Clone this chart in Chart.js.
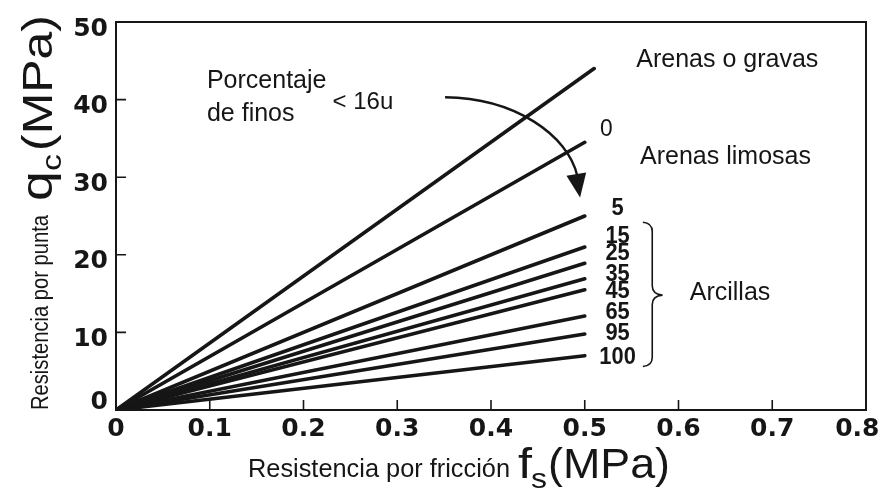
<!DOCTYPE html>
<html>
<head>
<meta charset="utf-8">
<script src="https://cdn.jsdelivr.net/npm/chart.js@4.4.1/dist/chart.umd.min.js"></script>
<style>
  html, body { margin: 0; padding: 0; background: #ffffff; }
  #wrap { width: 887px; height: 491px; }
</style>
</head>
<body>
<div id="wrap"><canvas id="c" width="887" height="491"></canvas></div>
<script>
// Resistencia por punta (qc) frente a resistencia por fricción (fs)
// Each line runs from the origin to its end point (fs, qc), in MPa.
const lineNames = ['Arenas o gravas', '0', '5', '15', '25', '35', '45', '65', '95', '100'];
const lineEndFs = [0.51, 0.50, 0.50, 0.50, 0.50, 0.50, 0.50, 0.50, 0.50, 0.50];
const lineEndQc = [44.0, 34.5, 25.0, 21.0, 18.9, 16.9, 15.5, 12.1, 9.8, 7.0];

// Fines percentages written next to the line ends
const finesLabels = ['0', '5', '15', '25', '35', '45', '65', '95', '100'];
// Soil groups
const soilLabels = ['Arenas o gravas', 'Arenas limosas', 'Arcillas'];

// Axis ticks
const xTickValues = [0, 0.1, 0.2, 0.3, 0.4, 0.5, 0.6, 0.7, 0.8];
const yTickValues = [0, 10, 20, 30, 40, 50];

const INK = '#161616';
const SANS = '"Liberation Sans", Arial, sans-serif';
const TICK_FONT = { family: '"DejaVu Sans", sans-serif', size: 25, weight: 'bold' };

// Placement of the annotations, in data units (fs, qc)
const finesPos = [
  [0.523, 36.1], [0.535, 26.0], [0.535, 22.4], [0.535, 20.2], [0.535, 17.5],
  [0.535, 15.2], [0.535, 12.5], [0.535, 9.9], [0.535, 6.8]
];
const soilPos = [[0.555, 45.1], [0.559, 32.6], [0.612, 15.1]];

const datasets = lineNames.map((name, i) => ({
  label: name,
  data: [{ x: 0, y: 0 }, { x: lineEndFs[i], y: lineEndQc[i] }],
  showLine: true,
  borderColor: INK,
  borderWidth: 3.6,
  borderCapStyle: 'round',
  pointRadius: 0,
  pointHoverRadius: 0,
  fill: false
}));

// Text drawn at a given width (squeezed or stretched horizontally)
function fitText(ctx, text, x, y, font, targetW) {
  ctx.font = font;
  const w = ctx.measureText(text).width;
  const s = targetW ? targetW / w : 1;
  ctx.save();
  ctx.translate(x, y);
  ctx.scale(s, 1);
  ctx.fillText(text, 0, 0);
  ctx.restore();
}

const annotations = {
  id: 'annotations',
  afterDraw(chart) {
    const ctx = chart.ctx;
    const xs = chart.scales.x, ys = chart.scales.y;
    const a = chart.chartArea;
    const px = v => xs.getPixelForValue(v);
    const py = v => ys.getPixelForValue(v);

    ctx.save();
    ctx.strokeStyle = INK;
    ctx.fillStyle = INK;

    // frame
    ctx.lineWidth = 2;
    ctx.strokeRect(a.left, a.top, a.right - a.left, a.bottom - a.top);

    // inward tick marks
    ctx.lineWidth = 1.6;
    ctx.beginPath();
    xTickValues.slice(1, -1).forEach(v => {
      ctx.moveTo(px(v), a.bottom);
      ctx.lineTo(px(v), a.bottom - 10);
    });
    yTickValues.slice(1, -1).forEach(v => {
      ctx.moveTo(a.left, py(v));
      ctx.lineTo(a.left + 10, py(v));
    });
    ctx.stroke();

    // fines percentages
    ctx.textBaseline = 'middle';
    finesLabels.forEach((t, i) => {
      const [fx, fy] = finesPos[i];
      const font = i === 0 ? '24px ' + SANS : 'bold 23px ' + SANS;
      ctx.font = font;
      const w = ctx.measureText(t).width * 0.95;
      fitText(ctx, t, px(fx) - w / 2, py(fy), font, w);
    });

    // soil groups
    ctx.font = '25px ' + SANS;
    soilLabels.forEach((t, i) => {
      const [sx, sy] = soilPos[i];
      ctx.fillText(t, px(sx), py(sy));
    });

    // "Porcentaje de finos < 16u"
    ctx.font = '25px ' + SANS;
    ctx.fillText('Porcentaje', px(0.097), py(42.4));
    ctx.fillText('de finos', px(0.097), py(38.1));
    ctx.font = '24px ' + SANS;
    ctx.fillText('< 16u', px(0.231), py(39.6));

    // curved arrow
    ctx.lineWidth = 2.4;
    ctx.beginPath();
    ctx.moveTo(px(0.351), py(40.3));
    ctx.bezierCurveTo(px(0.426), py(40.2), px(0.482), py(35.4), px(0.492), py(30.2));
    ctx.stroke();
    const tipX = px(0.495), tipY = py(27.4);
    const baseX = px(0.491), baseY = py(30.4);
    const dx = tipX - baseX, dy = tipY - baseY;
    const len = Math.hypot(dx, dy);
    const nx = -dy / len, ny = dx / len;
    ctx.beginPath();
    ctx.moveTo(tipX, tipY);
    ctx.lineTo(baseX + nx * 10, baseY + ny * 10);
    ctx.lineTo(baseX - nx * 10, baseY - ny * 10);
    ctx.closePath();
    ctx.fill();

    // curly bracket grouping the clays
    ctx.lineWidth = 1.6;
    ctx.beginPath();
    ctx.moveTo(px(0.562), py(24.2));
    ctx.quadraticCurveTo(px(0.572), py(24.1), px(0.572), py(23.0));
    ctx.lineTo(px(0.572), py(16.0));
    ctx.quadraticCurveTo(px(0.572), py(14.9), px(0.583), py(14.8));
    ctx.quadraticCurveTo(px(0.572), py(14.7), px(0.572), py(13.6));
    ctx.lineTo(px(0.572), py(6.8));
    ctx.quadraticCurveTo(px(0.572), py(5.7), px(0.562), py(5.6));
    ctx.stroke();

    // x-axis title
    ctx.textBaseline = 'alphabetic';
    fitText(ctx, 'Resistencia por fricción', 248, 477, '25px ' + SANS, 262);
    fitText(ctx, 'f', 518, 478, '42px ' + SANS, 14);
    fitText(ctx, 's', 531, 488, '28px ' + SANS, 16);
    fitText(ctx, '(MPa)', 548, 478, '42px ' + SANS, 122);

    // y-axis title (reads upwards)
    ctx.save();
    ctx.translate(48, 410);
    ctx.rotate(-Math.PI / 2);
    fitText(ctx, 'Resistencia por punta', 0, 0, '23px ' + SANS, 195);
    ctx.restore();
    ctx.save();
    ctx.translate(52, 201);
    ctx.rotate(-Math.PI / 2);
    fitText(ctx, 'q', 0, 0, '44px ' + SANS, 30);
    fitText(ctx, 'c', 30, 9, '28px ' + SANS, 17);
    fitText(ctx, '(MPa)', 50, 0, '42px ' + SANS, 136);
    ctx.restore();

    ctx.restore();
  }
};

new Chart(document.getElementById('c'), {
  type: 'scatter',
  data: { datasets },
  options: {
    responsive: false,
    devicePixelRatio: 1,
    animation: false,
    layout: { padding: { left: 0, right: 21, top: 22, bottom: 0 } },
    plugins: { legend: { display: false }, tooltip: { enabled: false } },
    scales: {
      x: {
        type: 'linear',
        min: 0,
        max: 0.8,
        afterBuildTicks(scale) { scale.ticks = xTickValues.map(v => ({ value: v })); },
        afterFit(scale) { scale.height = 81; scale.paddingLeft = 0; scale.paddingRight = 0; },
        grid: { display: false, drawTicks: false },
        border: { display: false },
        ticks: {
          color: INK,
          font: TICK_FONT,
          padding: 4,
          maxRotation: 0,
          autoSkip: false,
          callback: v => (v === 0 ? '0' : v === 0.8 ? '0.8  ' : v.toFixed(1))
        }
      },
      y: {
        type: 'linear',
        min: 0,
        max: 50,
        afterBuildTicks(scale) { scale.ticks = yTickValues.map(v => ({ value: v })); },
        afterFit(scale) { scale.width = 116; scale.paddingTop = 0; scale.paddingBottom = 0; },
        grid: { display: false, drawTicks: false },
        border: { display: false },
        ticks: {
          color: INK,
          font: TICK_FONT,
          padding: 8,
          labelOffset: 7,
          autoSkip: false,
          callback: v => (v === 0 ? ['0', ''] : String(v))
        }
      }
    }
  },
  plugins: [annotations]
});
</script>
</body>
</html>
